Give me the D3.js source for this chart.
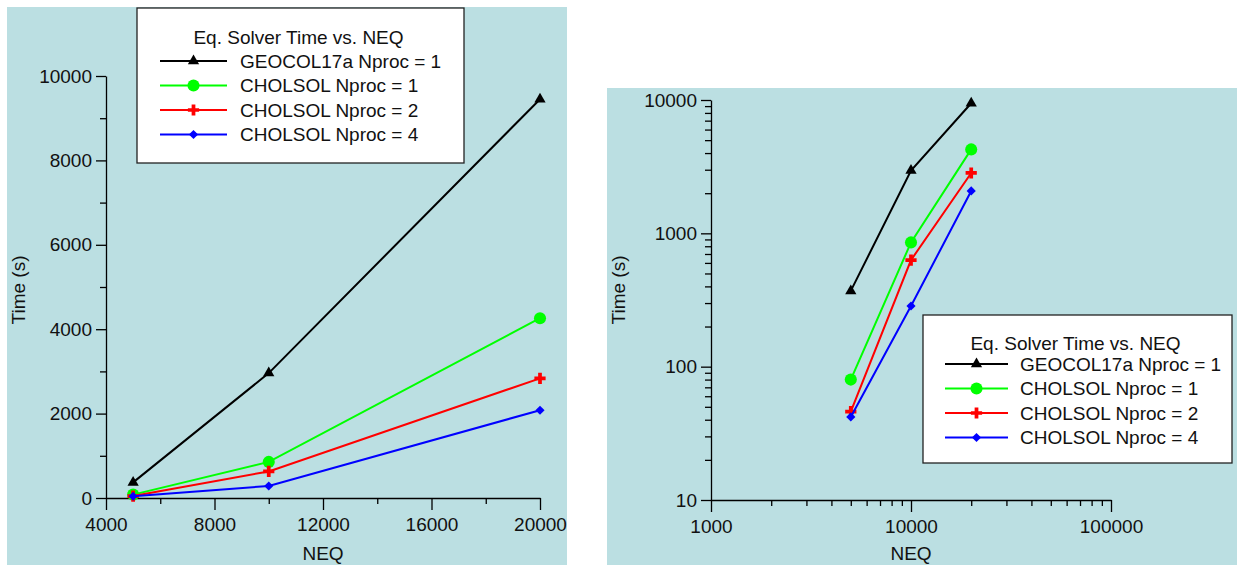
<!DOCTYPE html>
<html>
<head>
<meta charset="utf-8">
<script src="https://cdn.jsdelivr.net/npm/d3@7"></script>
<style>
  body { margin: 0; background: #fff; }
  svg { display: block; font-family: "Liberation Sans", Arial, sans-serif; }
</style>
</head>
<body>
<div id="chart"></div>
<script>
// data
var neq = [5000, 10000, 20000];
var geocol = [370, 2960, 9450];
var chol1 = [80, 855, 4260];
var chol2 = [46, 630, 2835];
var chol4 = [42, 285, 2080];
var seriesNames = ["GEOCOL17a Nproc = 1", "CHOLSOL Nproc = 1", "CHOLSOL Nproc = 2", "CHOLSOL Nproc = 4"];
var legendTitle = "Eq. Solver Time vs. NEQ";
var linXTicks = [4000, 8000, 12000, 16000, 20000];
var linXMinor = [6000, 10000, 14000, 18000];
var linYTicks = [0, 2000, 4000, 6000, 8000, 10000];
var linYMinor = [1000, 3000, 5000, 7000, 9000];
var logXTicks = [1000, 10000, 100000];
var logYTicks = [10, 100, 1000, 10000];

var width = 1237, height = 565;
var bg = "#bbdfe2";
var fs = '19px';
var colors = ["#000000", "#00ff00", "#ff0000", "#0000ff"];
var shapes = [d3.symbolTriangle, d3.symbolCircle, d3.symbolCross, d3.symbolSquare];
var sizes = [55, 115, 70, 42];
var rot = [0, 0, 0, 45];
var allSeries = [geocol, chol1, chol2, chol4];

var svg = d3.select('#chart')
    .append('svg')
    .attr('width', width)
    .attr('height', height);

// backgrounds
svg.append('rect').attr('x', 7).attr('y', 7).attr('width', 560).attr('height', 558).attr('fill', bg);
svg.append('rect').attr('x', 607).attr('y', 88).attr('width', 630).attr('height', 477).attr('fill', bg);

function minorsLog(lo, hi) {
    var out = [];
    for (var d = lo; d < hi; d *= 10) {
        for (var k = 2; k <= 9; k++) out.push(d * k);
    }
    return out;
}

function marker(sel, k, px, py) {
    sel.append('path')
        .attr('transform', 'translate(' + px + ',' + py + ') rotate(' + rot[k] + ')')
        .attr('d', d3.symbol().type(shapes[k]).size(sizes[k]))
        .attr('fill', colors[k]);
}

function drawPanel(x, y, xMajor, xMinor, yMajor, yMinor, yTitleX) {
    var g = svg.append('g');
    var x0 = x.range()[0], y0 = y.range()[0];

    // minor ticks first
    g.append('g').attr('transform', 'translate(0,' + y0 + ')')
        .call(d3.axisBottom(x).tickValues(xMinor).tickSize(6).tickFormat(''))
        .call(function (s) { s.select('.domain').remove(); });
    g.append('g').attr('transform', 'translate(' + x0 + ',0)')
        .call(d3.axisLeft(y).tickValues(yMinor).tickSize(6).tickFormat(''))
        .call(function (s) { s.select('.domain').remove(); });

    g.append('g').attr('transform', 'translate(0,' + y0 + ')')
        .call(d3.axisBottom(x).tickValues(xMajor).tickSize(12).tickSizeOuter(0).tickPadding(8).tickFormat(d3.format('d')));
    g.append('g').attr('transform', 'translate(' + x0 + ',0)')
        .call(d3.axisLeft(y).tickValues(yMajor).tickSize(10).tickSizeOuter(0).tickPadding(4).tickFormat(d3.format('d')));

    g.selectAll('.tick line, .domain').attr('stroke', '#000').attr('stroke-width', 1.3);
    g.selectAll('.tick text').attr('fill', '#111').style('font-size', fs).style('font-family', '"Liberation Sans", Arial, sans-serif');

    // axis titles
    g.append('text')
        .attr('x', (x.range()[0] + x.range()[1]) / 2)
        .attr('y', 560)
        .attr('text-anchor', 'middle')
        .style('font-size', fs)
        .attr('fill', '#111')
        .text('NEQ');
    g.append('text')
        .attr('transform', 'translate(' + yTitleX + ',290) rotate(-90)')
        .attr('text-anchor', 'middle')
        .attr('dy', '0.35em')
        .style('font-size', fs)
        .attr('fill', '#111')
        .text('Time (s)');

    var line = d3.line()
        .x(function (d, i) { return x(neq[i]); })
        .y(function (d) { return y(d); });

    allSeries.forEach(function (vals, k) {
        g.append('path')
            .datum(vals)
            .attr('fill', 'none')
            .attr('stroke', colors[k])
            .attr('stroke-width', 2)
            .attr('d', line);
        vals.forEach(function (d, i) { marker(g, k, x(neq[i]), y(d)); });
    });
    return g;
}

function drawLegend(left, top, w, h, lx1, lx2, tx, ty, ry) {
    var g = svg.append('g').attr('transform', 'translate(' + left + ',' + top + ')');
    g.append('rect').attr('width', w).attr('height', h)
        .attr('fill', '#fff').attr('stroke', '#222').attr('stroke-width', 1.3);
    g.append('text')
        .attr('x', w / 2 - 2).attr('y', ty)
        .attr('text-anchor', 'middle')
        .attr('dy', '0.35em')
        .style('font-size', fs)
        .attr('fill', '#111')
        .text(legendTitle);
    seriesNames.forEach(function (name, k) {
        var yy = ry + k * 24.5;
        g.append('line').attr('x1', lx1).attr('x2', lx2).attr('y1', yy).attr('y2', yy)
            .attr('stroke', colors[k]).attr('stroke-width', 2);
        marker(g, k, (lx1 + lx2) / 2, yy);
        g.append('text')
            .attr('x', tx).attr('y', yy)
            .attr('dy', '0.35em')
            .style('font-size', fs)
            .attr('fill', '#111')
            .text(name);
    });
}

// left: linear
var xLin = d3.scaleLinear().domain([4000, 20000]).range([106, 540]);
var yLin = d3.scaleLinear().domain([0, 10000]).range([498, 76]);
drawPanel(xLin, yLin, linXTicks, linXMinor, linYTicks, linYMinor, 18);
drawLegend(137, 8, 327, 155, 23, 90, 103, 29, 53);

// right: log-log
var xLog = d3.scaleLog().domain([1000, 100000]).range([711, 1111]);
var yLog = d3.scaleLog().domain([10, 10000]).range([500, 100]);
drawPanel(xLog, yLog, logXTicks, minorsLog(1000, 100000), logYTicks, minorsLog(10, 10000), 618);
drawLegend(923, 315, 309, 148, 22, 85, 97, 28, 49);
</script>
</body>
</html>
